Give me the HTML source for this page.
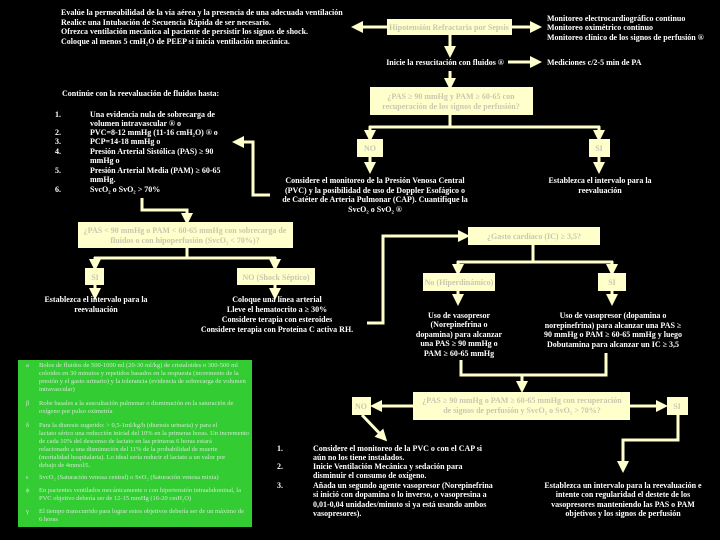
<!DOCTYPE html>
<html><head><meta charset="utf-8"><style>
html,body{margin:0;padding:0;background:#000;}
svg{display:block}
text{font-family:"Liberation Serif",serif;font-weight:bold;fill:#fff;font-size:8px}
.b{fill:#ffffcc}
.bt{fill:#c8c8b0;font-size:8px}
.g{fill:#d0e8d0;font-size:6.5px;font-weight:normal}
line,polyline{stroke:#ffffcc;stroke-width:3;fill:none}
</style></head><body>
<svg width="720" height="540" viewBox="0 0 720 540" xmlns="http://www.w3.org/2000/svg">
<defs><marker id="a" markerWidth="4" markerHeight="4" refX="2" refY="2" orient="auto" markerUnits="strokeWidth"><path d="M0,0 L4,2 L0,4 z" fill="#ffffcc"/></marker></defs>

<!-- top left text -->
<text x="61" y="15">Evalúe la permeabilidad de la vía aérea y la presencia de una adecuada ventilación</text>
<text x="61" y="25">Realice una Intubación de Secuencia Rápida de ser necesario.</text>
<text x="61" y="34">Ofrezca ventilación mecánica al paciente de persistir los signos de shock.</text>
<text x="61" y="44">Coloque al menos 5 cmH₂O de PEEP si inicia ventilación mecánica.</text>

<!-- top box -->
<rect class="b" x="387" y="19" width="125" height="16"/>
<text class="bt" x="449" y="30" text-anchor="middle">Hipotensión Refractaria por Sepsis</text>
<line x1="387" y1="27" x2="357" y2="27" marker-end="url(#a)"/>
<line x1="512" y1="27" x2="536" y2="27" marker-end="url(#a)"/>
<text x="547" y="21">Monitoreo electrocardiográfico continuo</text>
<text x="547" y="30">Monitoreo oximétrico continuo</text>
<text x="547" y="40">Monitoreo clínico de los signos de perfusión ®</text>
<line x1="450" y1="35" x2="450" y2="52" marker-end="url(#a)"/>
<text x="445" y="65" text-anchor="middle">Inicie la resucitación con fluidos ®</text>
<line x1="508" y1="62" x2="536" y2="62" marker-end="url(#a)"/>
<text x="547" y="65">Mediciones c/2-5 min de PA</text>
<line x1="450" y1="71" x2="450" y2="84" marker-end="url(#a)"/>

<rect class="b" x="370" y="87" width="163" height="28"/>
<text class="bt" x="451" y="99" text-anchor="middle">¿PAS ≥ 90 mmHg y PAM ≥ 60-65 con</text>
<text class="bt" x="451" y="109" text-anchor="middle">recuperación de los signos de perfusión?</text>
<polyline points="450,115 450,127"/>
<polyline points="369,127 600,127"/>
<line x1="370" y1="126" x2="370" y2="136" marker-end="url(#a)"/>
<line x1="599" y1="126" x2="599" y2="136" marker-end="url(#a)"/>
<rect class="b" x="357" y="139" width="26" height="18"/>
<text class="bt" x="370" y="151" text-anchor="middle">NO</text>
<rect class="b" x="589" y="139" width="21" height="18"/>
<text class="bt" x="599" y="151" text-anchor="middle">SI</text>
<line x1="370" y1="157" x2="370" y2="168" marker-end="url(#a)"/>
<line x1="599" y1="157" x2="599" y2="168" marker-end="url(#a)"/>
<text x="600" y="183" text-anchor="middle">Establezca el intervalo para la</text>
<text x="600" y="193" text-anchor="middle">reevaluación</text>
<text x="375" y="183" text-anchor="middle">Considere el monitoreo de la Presión Venosa Central</text>
<text x="375" y="193" text-anchor="middle">(PVC) y la posibilidad de uso de Doppler Esofágico o</text>
<text x="375" y="202" text-anchor="middle">de Catéter de Arteria Pulmonar (CAP). Cuantifique la</text>
<text x="375" y="212" text-anchor="middle">SvcO₂ o SvO₂ ®</text>

<!-- left list -->
<text x="62" y="96">Continúe con la reevaluación de fluidos hasta:</text>
<text x="55" y="117">1.</text><text x="90" y="117">Una evidencia nula de sobrecarga de</text>
<text x="90" y="126">volumen intravascular ® o</text>
<text x="55" y="135">2.</text><text x="90" y="135">PVC=8-12 mmHg (11-16 cmH₂O) ® o</text>
<text x="55" y="144">3.</text><text x="90" y="144">PCP=14-18 mmHg o</text>
<text x="55" y="154">4.</text><text x="90" y="154">Presión Arterial Sistólica (PAS) ≥ 90</text>
<text x="90" y="163">mmHg o</text>
<text x="55" y="173">5.</text><text x="90" y="173">Presión Arterial Media (PAM) ≥ 60-65</text>
<text x="90" y="182">mmHg.</text>
<text x="55" y="192">6.</text><text x="90" y="192">SvcO₂ o SvO₂ &gt; 70%</text>
<polyline points="270,195 253,195 253,142 240,142"/>
<line x1="253" y1="142" x2="238" y2="142" marker-end="url(#a)"/>

<polyline points="142,198 142,210 187,210 187,216"/>
<line x1="187" y1="210" x2="187" y2="219" marker-end="url(#a)"/>
<rect class="b" x="78" y="222" width="215" height="26"/>
<text class="bt" x="185" y="233" text-anchor="middle">¿PAS &lt; 90 mmHg o PAM &lt; 60-65 mmHg con sobrecarga de</text>
<text class="bt" x="185" y="243" text-anchor="middle">fluidos o con hipoperfusión (SvcO₂ &lt; 70%)?</text>
<polyline points="187,248 187,258"/>
<polyline points="94,258 276,258"/>
<line x1="95" y1="257" x2="95" y2="265" marker-end="url(#a)"/>
<line x1="275" y1="257" x2="275" y2="265" marker-end="url(#a)"/>
<rect class="b" x="85" y="268" width="19" height="17"/>
<text class="bt" x="95" y="280" text-anchor="middle">SI</text>
<rect class="b" x="237" y="268" width="78" height="17"/>
<text class="bt" x="276" y="280" text-anchor="middle">NO (Shock Séptico)</text>
<line x1="95" y1="285" x2="95" y2="294" marker-end="url(#a)"/>
<line x1="275" y1="285" x2="275" y2="294" marker-end="url(#a)"/>
<text x="96" y="302" text-anchor="middle">Establezca el intervalo para la</text>
<text x="96" y="312" text-anchor="middle">reevaluación</text>
<text x="277" y="302" text-anchor="middle">Coloque una línea arterial</text>
<text x="277" y="312" text-anchor="middle">Lleve el hematocrito a ≥ 30%</text>
<text x="277" y="322" text-anchor="middle">Considere terapia con esteroides</text>
<text x="277" y="332" text-anchor="middle">Considere terapia con Proteína C activa RH.</text>

<!-- right middle -->
<polyline points="367,323 383,323 383,236 462,236"/>
<line x1="383" y1="236" x2="464" y2="236" marker-end="url(#a)"/>
<rect class="b" x="468" y="227" width="132" height="18"/>
<text class="bt" x="534" y="239" text-anchor="middle">¿Gasto cardíaco (IC) ≥ 3,5?</text>
<polyline points="533,245 533,262"/>
<polyline points="457,262 613,262"/>
<line x1="458" y1="261" x2="458" y2="270" marker-end="url(#a)"/>
<line x1="612" y1="261" x2="612" y2="270" marker-end="url(#a)"/>
<rect class="b" x="423" y="273" width="72" height="18"/>
<text class="bt" x="459" y="285" text-anchor="middle">No (Hiperdinámico)</text>
<rect class="b" x="598" y="273" width="28" height="18"/>
<text class="bt" x="612" y="285" text-anchor="middle">SI</text>
<line x1="458" y1="291" x2="458" y2="300" marker-end="url(#a)"/>
<line x1="612" y1="291" x2="612" y2="300" marker-end="url(#a)"/>
<text x="459" y="318" text-anchor="middle">Uso de vasopresor</text>
<text x="459" y="327" text-anchor="middle">(Norepinefrina o</text>
<text x="459" y="337" text-anchor="middle">dopamina) para alcanzar</text>
<text x="459" y="346" text-anchor="middle">una PAS ≥ 90 mmHg o</text>
<text x="459" y="356" text-anchor="middle">PAM ≥ 60-65 mmHg</text>
<text x="613" y="318" text-anchor="middle">Uso de vasopresor (dopamina o</text>
<text x="613" y="328" text-anchor="middle">norepinefrina) para alcanzar una PAS ≥</text>
<text x="613" y="337" text-anchor="middle">90 mmHg o PAM ≥ 60-65 mmHg y luego</text>
<text x="613" y="347" text-anchor="middle">Dobutamina para alcanzar un IC ≥ 3,5</text>
<polyline points="461,360 461,375 606,375 606,353"/>
<line x1="522" y1="375" x2="522" y2="387" marker-end="url(#a)"/>
<rect class="b" x="413" y="392" width="217" height="28"/>
<text class="bt" x="522" y="403" text-anchor="middle">¿PAS ≥ 90 mmHg o PAM ≥ 60-65 mmHg con recuperación</text>
<text class="bt" x="522" y="413" text-anchor="middle">de signos de perfusión y SvcO₂ o SvO₂ &gt; 70%?</text>
<line x1="413" y1="406" x2="376" y2="406" marker-end="url(#a)"/>
<line x1="630" y1="406" x2="662" y2="406" marker-end="url(#a)"/>
<rect class="b" x="352" y="397" width="19" height="18"/>
<text class="bt" x="361" y="409" text-anchor="middle">NO</text>
<rect class="b" x="667" y="397" width="21" height="18"/>
<text class="bt" x="677" y="409" text-anchor="middle">SI</text>
<line x1="362" y1="415" x2="383" y2="437" marker-end="url(#a)"/>
<polyline points="678,415 678,440 623,440 623,462"/>
<line x1="623" y1="440" x2="623" y2="467" marker-end="url(#a)"/>

<text x="277" y="451">1.</text><text x="313" y="451">Considere el monitoreo de la PVC o con el CAP si</text>
<text x="313" y="460">aún no los tiene instalados.</text>
<text x="277" y="469">2.</text><text x="313" y="469">Inicie Ventilación Mecánica y sedación para</text>
<text x="313" y="478">disminuir el consumo de oxígeno.</text>
<text x="277" y="488">3.</text><text x="313" y="488">Añada un segundo agente vasopresor (Norepinefrina</text>
<text x="313" y="497">si inició con dopamina o lo inverso, o vasopresina a</text>
<text x="313" y="507">0,01-0,04 unidades/minuto si ya está usando ambos</text>
<text x="313" y="516">vasopresores).</text>
<text x="623" y="488" text-anchor="middle">Establezca un intervalo para la reevaluación e</text>
<text x="623" y="497" text-anchor="middle">intente con regularidad el destete de los</text>
<text x="623" y="507" text-anchor="middle">vasopresores manteniendo las PAS o PAM</text>
<text x="623" y="516" text-anchor="middle">objetivos y los signos de perfusión</text>

<!-- green notes -->
<rect x="18" y="360" width="234" height="167" fill="#33cc33"/>
<g class="g">
<text class="g" x="26" y="367">a</text>
<text class="g" x="39" y="367">Bolos de fluidos de 500-1000 ml (20-30 ml/kg) de cristaloides o 300-500 ml</text>
<text class="g" x="39" y="375">coloides en 30 minutos y repetidos basados en la respuesta (incremento de la</text>
<text class="g" x="39" y="383">presión y el gasto urinario) y la tolerancia (evidencia de sobrecarga de volumen</text>
<text class="g" x="39" y="391">intravascular)</text>
<text class="g" x="26" y="405">β</text>
<text class="g" x="39" y="405">Robe basales a la auscultación pulmonar o disminución en la saturación de</text>
<text class="g" x="39" y="413">oxígeno por pulso oximetría</text>
<text class="g" x="26" y="427">δ</text>
<text class="g" x="39" y="427">Para la diuresis sugerido: &gt; 0,5-1ml/kg/h (diuresis urinaria) y para el</text>
<text class="g" x="39" y="435">lactato sérico una reducción inicial del 10% en la primeras horas. Un incremento</text>
<text class="g" x="39" y="443">de cada 10% del descenso de lactato en las primeras 6 horas estará</text>
<text class="g" x="39" y="451">relacionado a una disminución del 11% de la probabilidad de muerte</text>
<text class="g" x="39" y="459">(mortalidad hospitalaria). Lo ideal sería reducir el lactato a un valor por</text>
<text class="g" x="39" y="467">debajo de 4mmol/L</text>
<text class="g" x="26" y="479">ε</text>
<text class="g" x="39" y="479">SvcO₂ (Saturación venosa central) o SvO₂ (Saturación venosa mixta)</text>
<text class="g" x="26" y="492">ϕ</text>
<text class="g" x="39" y="492">En pacientes ventilados mecánicamente o con hipertensión intraabdominal, la</text>
<text class="g" x="39" y="500">PVC objetivo debería ser de 12-15 mmHg (16-20 cmH₂O)</text>
<text class="g" x="26" y="513">γ</text>
<text class="g" x="39" y="513">El tiempo transcurrido para lograr estos objetivos debería ser de un máximo de</text>
<text class="g" x="39" y="521">6 horas</text>
</g>
</svg>
</body></html>
